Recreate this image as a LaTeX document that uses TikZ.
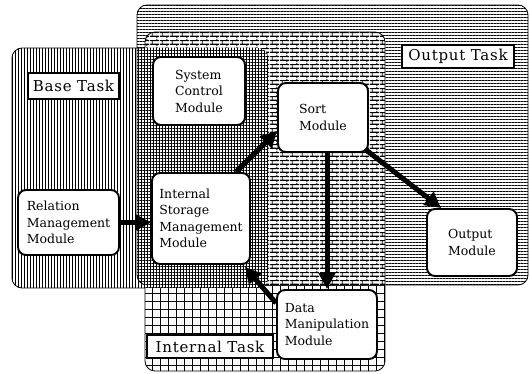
\documentclass[tikz,border=0pt]{standalone}
\usepackage{fontspec}
\setmainfont{DejaVu Serif}
\newfontfamily\tagfont[LetterSpace=5]{DejaVu Serif}
\usetikzlibrary{patterns.meta,arrows.meta,calc}

% staggered brick texture for the shared area of two tasks
\tikzdeclarepattern{
  name=brickwall,
  type=uncolored,
  bottom left={(0pt,0pt)},
  top right={(10pt,8pt)},
  tile size={(10pt,8pt)},
  code={
    \draw[line width=1.2pt] (0pt,2pt) -- (10pt,2pt) (0pt,6pt) -- (10pt,6pt);
    \draw[line width=0.9pt] (2.5pt,2pt) -- (2.5pt,6pt)
      (7.5pt,6pt) -- (7.5pt,8pt) (7.5pt,0pt) -- (7.5pt,2pt);
  }
}

% task areas
\newcommand\outputshape{(137,5) rectangle (528,285)}
\newcommand\internalshape{(145,32) rectangle (385,371)}
\newcommand\baseshape{(12,48) rectangle (268,288)}

\begin{document}
\begin{tikzpicture}[x=1pt,y=-1pt,
  region/.style={rounded corners=10pt},
  edge/.style={region, draw, line width=0.8pt},
  module/.style={draw, line width=1.9pt, fill=white, rounded corners=8pt,
    align=left, inner sep=0pt, font=\fontsize{12.5}{16.5}\selectfont},
  tasklabel/.style={draw, line width=1.3pt, fill=white, inner sep=0pt,
    font=\tagfont\fontsize{15}{18}\selectfont},
  flow/.style={line width=5pt, -{Triangle[length=16pt,width=16pt]}}
]
\useasboundingbox (0,0) rectangle (530,374);

% Output Task: horizontal hatching
\fill[region, pattern={Lines[distance=3pt, angle=0, line width=0.8pt]}] \outputshape;
\path[edge] \outputshape;

% Internal Task: open grid, bricks where it shares space with Output Task
\fill[region, white] \internalshape;
\fill[region, pattern={Lines[distance=8pt, angle=0, line width=1pt]}] \internalshape;
\fill[region, pattern={Lines[distance=8pt, angle=90, line width=1pt]}] \internalshape;
\begin{scope}
  \clip[region] \outputshape;
  \fill[region, white] \internalshape;
  \fill[region, pattern=brickwall] \internalshape;
\end{scope}
\path[edge] \internalshape;

% Base Task: vertical hatching, fine grid inside Internal Task
\fill[region, pattern={Lines[distance=3pt, angle=90, line width=0.8pt]}] \baseshape;
\begin{scope}
  \clip[region] \internalshape;
  \fill[region, white] \baseshape;
  \fill[region, pattern={Lines[distance=3pt, angle=0, line width=0.7pt]}] \baseshape;
  \fill[region, pattern={Lines[distance=3pt, angle=90, line width=0.7pt]}] \baseshape;
\end{scope}
\begin{scope}
  \clip[region] (0,0) -- (145,0) -- (145,374) -- (0,374) -- cycle;
  \path[edge] \baseshape;
\end{scope}

% task labels
\node[tasklabel, minimum width=91pt, minimum height=26pt] (basetag) at (73.5,86) {Base Task};
\node[tasklabel, minimum width=112pt, minimum height=23pt] (outtag) at (458,56.5) {Output Task};
\node[tasklabel, minimum width=126pt, minimum height=23pt] (inttag) at (210,346.5) {Internal Task};

% modules
\node[module, minimum width=92pt, minimum height=68pt] (scm) at (199,91) {System\\Control\\Module};
\node[module, minimum width=90pt, minimum height=69pt] (sort) at (323,117.5) {Sort\\Module};
\node[module, minimum width=98pt, minimum height=91pt] (ism) at (201,218.5) {Internal\\Storage\\Management\\Module};
\node[module, minimum width=101pt, minimum height=65pt] (rmm) at (68.5,222.5) {Relation\\Management\\Module};
\node[module, minimum width=100pt, minimum height=69pt] (dmm) at (327,324.5) {Data\\Manipulation\\Module};
\node[module, minimum width=90pt, minimum height=67pt] (om) at (472,242.5) {Output\\Module};

% data flow
\draw[flow] (rmm.east) -- (ism.west |- rmm.east);
\draw[flow] ($(ism.north east)+(-15,0)$) -- ($(sort.south west)+(0,-22)$);
\draw[flow] ($(sort.south)+(4,0)$) -- (dmm.north);
\draw[flow] ($(sort.south east)+(-3,-3)$) -- ($(om.north west)+(15,0)$);
\draw[flow] ($(dmm.north west)+(0,14)$) -- ($(ism.south east)+(-6,2)$);
\end{tikzpicture}
\end{document}
